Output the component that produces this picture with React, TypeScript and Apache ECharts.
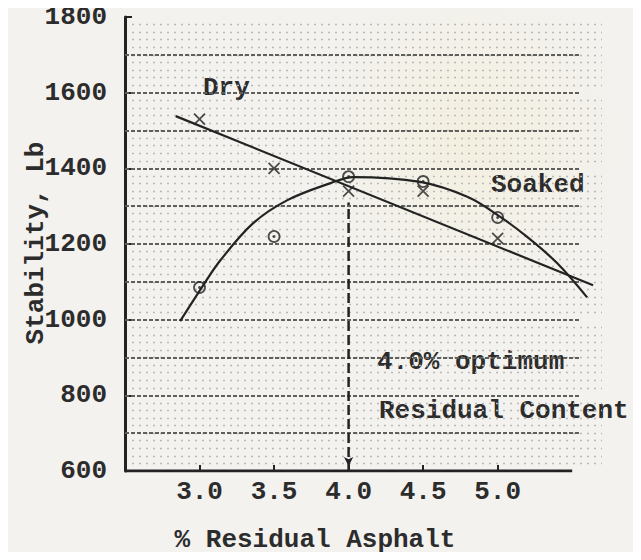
import React, { useEffect, useRef } from "react";
import * as echarts from "echarts";

// Axis ticks
const xTickValues = [3.0, 3.5, 4.0, 4.5, 5.0];
const xAxisExtent = [2.5, 5.5];
// Ruled background lines of the graph paper (every 100 lb)
const gridLevels = [700, 800, 900, 1000, 1100, 1200, 1300, 1400, 1500, 1600, 1700];

// Measured test points
const dryPoints = [
  [3.0, 1530],
  [3.5, 1400],
  [4.0, 1340],
  [4.5, 1340],
  [5.0, 1215],
];
const soakedPoints = [
  [3.0, 1085],
  [3.5, 1220],
  [4.0, 1378],
  [4.5, 1365],
  [5.0, 1270],
];

// Hand-drawn trend lines
const dryTrend = [
  [2.84, 1538],
  [5.64, 1091],
];
const soakedTrend = [
  [2.87, 996],
  [3.02, 1088],
  [3.14, 1157],
  [3.36, 1255],
  [3.59, 1316],
  [3.88, 1361],
  [4.03, 1377],
  [4.48, 1364],
  [4.8, 1324],
  [5.02, 1271],
  [5.2, 1218],
  [5.4, 1149],
  [5.6, 1059],
];

// Optimum residual content marker
const optimumContent = 4.0;
const optimumTop = 1310;

const FONT = "'Liberation Mono', 'DejaVu Sans Mono', monospace";
const INK = "#232323";
const TEXT = "#2c2c2c";
const WEIGHT = "bold";

export default function App() {
  const ref = useRef<HTMLDivElement>(null);

  useEffect(() => {
    if (!ref.current) return;
    const chart = echarts.init(ref.current, null, { renderer: "svg" });

    const textStyle = (text: string, align = "left") => ({
      text,
      font: `${WEIGHT} 26px ${FONT}`,
      fill: TEXT,
      align,
      verticalAlign: "middle",
    });

    const option: any = {
      animation: false,
      backgroundColor: "#f3f2ef",
      grid: { left: 125, right: 39, top: 17, bottom: 89 },
      xAxis: {
        type: "value",
        min: 2.5,
        max: 5.7,
        interval: 0.5,
        axisLine: { show: false },
        axisTick: {
          show: true,
          inside: true,
          length: 6,
          customValues: xTickValues,
          lineStyle: { color: INK, width: 2 },
        },
        axisLabel: {
          customValues: xTickValues,
          formatter: (v: number) => v.toFixed(1),
          fontFamily: FONT,
          fontWeight: WEIGHT,
          fontSize: 26,
          color: TEXT,
          margin: 8,
        },
        splitLine: { show: false },
      },
      yAxis: {
        type: "value",
        min: 600,
        max: 1800,
        interval: 200,
        axisLine: { show: true, lineStyle: { color: INK, width: 3 } },
        axisTick: {
          show: true,
          inside: true,
          length: 7,
          lineStyle: { color: INK, width: 2 },
        },
        axisLabel: {
          formatter: (v: number) => String(v),
          fontFamily: FONT,
          fontWeight: WEIGHT,
          fontSize: 26,
          color: TEXT,
          margin: 18,
        },
        splitLine: { show: false },
        minorTick: { show: false, splitNumber: 10 },
        minorSplitLine: {
          show: true,
          lineStyle: { color: "#b9b9b6", width: 1.3, type: [2, 5] },
        },
      },
      graphic: [
        {
          type: "circle",
          shape: { cx: 470, cy: 140, r: 170 },
          style: {
            fill: {
              type: "radial",
              x: 0.5,
              y: 0.5,
              r: 0.5,
              colorStops: [
                { offset: 0, color: "rgba(245,228,170,0.22)" },
                { offset: 1, color: "rgba(245,228,170,0)" },
              ],
            },
          },
          z: -10,
          silent: true,
        },
        { type: "text", x: 36, y: 243, rotation: Math.PI / 2, style: textStyle("Stability, Lb", "center") },
        { type: "text", x: 315, y: 540, style: textStyle("% Residual Asphalt", "center") },
        { type: "text", x: 203, y: 88, style: textStyle("Dry") },
        { type: "text", x: 491, y: 185, style: textStyle("Soaked") },
        { type: "text", x: 377, y: 362, style: textStyle("4.0% optimum") },
        { type: "text", x: 379, y: 411, style: textStyle("Residual Content") },
      ],
      series: [
        {
          name: "Baseline",
          type: "line",
          data: [
            [xAxisExtent[0], 600],
            [xAxisExtent[1], 600],
          ],
          symbol: "none",
          lineStyle: { color: INK, width: 3 },
          z: 7,
          markLine: {
            silent: true,
            symbol: "none",
            label: { show: false },
            lineStyle: { color: "#5f5f5c", width: 1.8, type: [4, 2] },
            data: gridLevels.map((v) => [
              { coord: [xAxisExtent[0], v] },
              { coord: [xAxisExtent[1] + 0.05, v] },
            ]),
            z: 1,
          },
        },
        {
          name: "Dry trend",
          type: "line",
          data: dryTrend,
          symbol: "none",
          lineStyle: { color: INK, width: 2.2 },
          z: 5,
        },
        {
          name: "Soaked trend",
          type: "line",
          data: soakedTrend,
          smooth: 0.35,
          symbol: "none",
          lineStyle: { color: INK, width: 2.2 },
          z: 5,
        },
        {
          name: "Optimum",
          type: "line",
          data: [
            { value: [optimumContent, 600], symbol: "arrow", symbolSize: [7, 9], symbolRotate: 180, symbolOffset: [0, -5] },
            { value: [optimumContent, optimumTop], symbol: "none" },
          ],
          lineStyle: { color: INK, width: 2.5, type: [10, 4] },
          itemStyle: { color: INK },
          z: 4,
        },
        {
          name: "Dry",
          type: "scatter",
          data: dryPoints,
          symbol: "path://M0,0L10,10M10,0L0,10",
          symbolSize: 11,
          itemStyle: { color: "rgba(0,0,0,0)", borderColor: INK, borderWidth: 1.8 },
          z: 6,
        },
        {
          name: "Soaked",
          type: "scatter",
          data: soakedPoints,
          symbol: "circle",
          symbolSize: 11,
          itemStyle: { color: "rgba(0,0,0,0)", borderColor: INK, borderWidth: 1.8 },
          z: 6,
        },
        {
          name: "Soaked centre",
          type: "scatter",
          data: soakedPoints,
          symbol: "circle",
          symbolSize: 3,
          itemStyle: { color: INK },
          z: 6,
        },
      ],
    };

    chart.setOption(option);
    return () => chart.dispose();
  }, []);

  return <div ref={ref} style={{ width: 641, height: 560, margin: -8 }} />;
}
